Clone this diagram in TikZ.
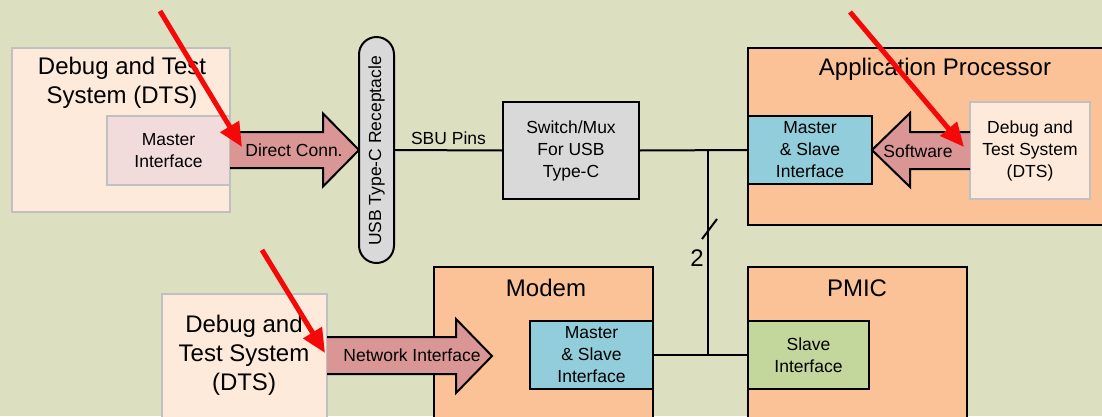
\documentclass[tikz,border=0pt]{standalone}
\usepackage{fontspec}
\setmainfont{Liberation Sans}
\usetikzlibrary{arrows.meta,calc}
\definecolor{bgc}{RGB}{221,223,193}
\definecolor{dtsfill}{RGB}{253,234,218}
\definecolor{mifill}{RGB}{242,220,219}
\definecolor{arrfill}{RGB}{217,150,148}
\definecolor{chipfill}{RGB}{250,194,150}
\definecolor{bluefill}{RGB}{146,205,220}
\definecolor{greenfill}{RGB}{195,214,155}
\definecolor{grayfill}{RGB}{217,217,217}
\definecolor{grayline}{RGB}{192,192,192}
\definecolor{redarr}{RGB}{245,8,8}
\tikzset{
  box/.style={draw=black, line width=2pt, inner sep=0pt, outer sep=0pt},
  graybox/.style={draw=grayline, line width=2.5pt, inner sep=0pt, outer sep=0pt},
  smalltxt/.style={font=\fontsize{17.5}{22}\selectfont, align=center, inner sep=0pt},
  bigtxt/.style={font=\fontsize{24}{29}\selectfont, align=center, inner sep=0pt},
  blockarrow/.style={draw=black, line width=2pt, fill=arrfill, line join=miter},
  wire/.style={draw=black, line width=2pt},
  pointer/.style={draw=redarr, line width=5pt, -{Triangle[length=24pt,width=21pt]}}
}
\begin{document}
\begin{tikzpicture}[x=1pt,y=-1pt]
\clip (0,0) rectangle (1102,416);
\fill[bgc] (0,0) rectangle (1102,416);

% DTS 1 (top left)
\node[graybox, fill=dtsfill, minimum width=218pt, minimum height=164pt] (dts1) at (121,130) {};
\node[bigtxt] (dts1t) at (122,82.5) {Debug and Test\\System (DTS)};
\node[graybox, fill=mifill, minimum width=123pt, minimum height=69pt] (mi) at (168.5,150.5) {};
\node[smalltxt] (mit) at (mi.center) {Master\\Interface};

% Direct Conn. arrow
\draw[blockarrow] (230,132) -- (323,132) -- (323,113.5) -- (359,150) -- (323,186.5) -- (323,168) -- (230,168);
\node[smalltxt] (dc) at (294,150) {Direct Conn.};

% USB receptacle
\node[box, fill=grayfill, rounded corners=17.5pt, minimum width=35pt, minimum height=226pt] (usb) at (376.5,150) {};
\node[smalltxt, rotate=90] (usbt) at (376.5,151) {USB Type-C Receptacle};

% Switch
\node[box, fill=grayfill, minimum width=136pt, minimum height=97pt] (sw) at (571,150.5) {};
\node[smalltxt] (swt) at (sw.center) {Switch/Mux\\For USB\\Type-C};
\draw[wire] (usb.east) -- (sw.west) node[midway, above=5pt, smalltxt] (sbu) {SBU Pins};

% Application processor
\node[box, fill=chipfill, minimum width=367pt, minimum height=177pt] (ap) at (931.5,136.5) {};
\node[bigtxt] (apt) at (935,69) {Application Processor};
\node[box, fill=bluefill, minimum width=124pt, minimum height=68pt] (apmi) at (810,150) {};
\node[smalltxt] (apmit) at (apmi.center) {Master\\\& Slave\\Interface};
\node[graybox, fill=dtsfill, minimum width=120pt, minimum height=97pt] (dts3) at (1030,150.5) {};
\node[smalltxt] (dts3t) at (dts3.center) {Debug and\\Test System\\(DTS)};
\draw[blockarrow] (970,132) -- (910,132) -- (910,113) -- (872,150) -- (910,187) -- (910,169) -- (970,169);
\node[smalltxt] (swr) at (918,151) {Software};

% Modem
\node[box, fill=chipfill, minimum width=219pt, minimum height=163pt] (mdm) at (543.5,348.5) {};
\node[bigtxt] (mdmt) at (546,288) {Modem};
\node[box, fill=bluefill, minimum width=123pt, minimum height=68pt] (mdmi) at (591.5,355) {};
\node[smalltxt] (mdmit) at (mdmi.center) {Master\\\& Slave\\Interface};

% PMIC
\node[box, fill=chipfill, minimum width=219pt, minimum height=163pt] (pmic) at (857.5,348.5) {};
\node[bigtxt] (pmict) at (857,288) {PMIC};
\node[box, fill=greenfill, minimum width=121pt, minimum height=68pt] (slv) at (808.5,355) {};
\node[smalltxt] (slvt) at (slv.center) {Slave\\Interface};

% DTS 2 (bottom left)
\node[graybox, fill=dtsfill, minimum width=165pt, minimum height=140pt] (dts2) at (244.5,364) {};
\node[bigtxt] (dts2t) at (244,355) {Debug and\\Test System\\(DTS)};
\draw[blockarrow] (327,337) -- (456,337) -- (456,319) -- (492,356) -- (456,393) -- (456,374) -- (327,374);
\node[smalltxt] (ni) at (412,355) {Network Interface};

% Bus wiring
\coordinate (j1) at (708,150);
\coordinate (j2) at (708,355);
\draw[wire] (sw.east) -- (apmi.west);
\draw[wire] (mdmi.east) -- (slv.west);
\draw[wire] (j1) -- (j2);
\coordinate (sl) at (709.5,229);
\draw[wire] ($(sl)+(-7.5,10)$) -- ($(sl)+(7.5,-10)$);
\node[bigtxt] (two) at (697,258) {2};

% Red pointers
\coordinate (r1s) at (160,11);
\coordinate (r1e) at (242,147);
\coordinate (r2s) at (850,12);
\coordinate (r2e) at (964,147);
\coordinate (r3s) at (262,250);
\coordinate (r3e) at (325,353);
\draw[pointer] (r1s) -- (r1e);
\draw[pointer] (r2s) -- (r2e);
\draw[pointer] (r3s) -- (r3e);
\end{tikzpicture}
\end{document}
